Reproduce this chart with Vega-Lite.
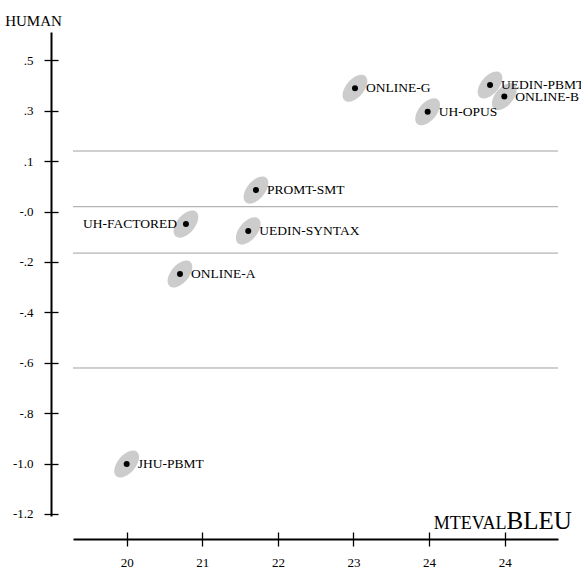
{
  "$schema": "https://vega.github.io/schema/vega-lite/v6.json",
  "width": 485,
  "height": 484,
  "autosize": {"type": "none"},
  "padding": {"left": 73, "top": 32, "right": 23, "bottom": 62},
  "background": "white",
  "config": {"view": {"stroke": null}, "font": "Liberation Serif"},
  "datasets": {
    "systems": [
      {"system": "ONLINE-G", "bleu": 23.02, "human": 0.389},
      {"system": "UEDIN-PBMT", "bleu": 24.806, "human": 0.402},
      {"system": "ONLINE-B", "bleu": 24.995, "human": 0.356},
      {"system": "UH-OPUS", "bleu": 23.981, "human": 0.296},
      {"system": "PROMT-SMT", "bleu": 21.71, "human": -0.015},
      {"system": "UH-FACTORED", "bleu": 20.784, "human": -0.15},
      {"system": "UEDIN-SYNTAX", "bleu": 21.608, "human": -0.177},
      {"system": "ONLINE-A", "bleu": 20.705, "human": -0.348},
      {"system": "JHU-PBMT", "bleu": 20.0, "human": -1.102}
    ],
    "boundaries": [
      {"human": 0.14},
      {"human": -0.081},
      {"human": -0.265},
      {"human": -0.721}
    ]
  },
  "resolve": {"axis": {"x": "independent", "y": "independent"}},
  "layer": [
    {
      "data": {"name": "boundaries"},
      "mark": {"type": "rule", "color": "#a0a0a0", "strokeWidth": 1},
      "encoding": {
        "y": {"field": "human", "type": "quantitative", "scale": {"domain": [-1.3083, 0.6123], "nice": false, "zero": false}, "axis": null}
      }
    },
    {
      "data": {"name": "systems"},
      "mark": {"type": "point", "shape": "M-1,0A1,0.5625,0,1,0,1,0A1,0.5625,0,1,0,-1,0Z", "angle": -50, "size": 1024, "filled": true, "color": "#cccccc", "opacity": 1, "strokeWidth": 0},
      "encoding": {
        "x": {
          "field": "bleu", "type": "quantitative",
          "scale": {"domain": [19.29, 25.705], "nice": false, "zero": false},
          "axis": {
            "orient": "bottom", "offset": 16, "grid": false, "domain": false,
            "values": [20, 21, 22, 23, 24, 25],
            "labelExpr": "datum.value == 25 ? '24' : format(datum.value, 'd')",
            "tickColor": "black", "tickWidth": 1.3, "tickSize": 14,
            "labelFont": "Liberation Serif", "labelFontSize": 13, "labelColor": "black", "labelPadding": 10,
            "title": "MTEVAL", "titleFont": "Liberation Serif", "titleFontSize": 18, "titleFontWeight": "normal", "titleColor": "black",
            "titleX": 433, "titleY": -4, "titleAlign": "right", "titleBaseline": "alphabetic", "titleAnchor": null
          }
        },
        "y": {
          "field": "human", "type": "quantitative",
          "scale": {"domain": [-1.3083, 0.6123], "nice": false, "zero": false},
          "axis": {
            "orient": "left", "offset": 15, "grid": false, "domain": false,
            "values": [0.5, 0.3, 0.1, -0.1, -0.3, -0.5, -0.7, -0.9, -1.1, -1.3],
            "labelExpr": "datum.value > 0 ? replace(format(datum.value, '.1f'), '0.', '.') : '-' + replace(format(abs(datum.value + 0.1), '.1f'), '0.', '.')",
            "tickColor": "black", "tickWidth": 1.3, "tickSize": 14,
            "labelFont": "Liberation Serif", "labelFontSize": 13, "labelColor": "black", "labelPadding": 11,
            "title": "HUMAN", "titleFont": "Liberation Serif", "titleFontSize": 15, "titleFontWeight": "normal", "titleColor": "black",
            "titleAngle": 0, "titleX": -25, "titleY": -7, "titleAlign": "center", "titleBaseline": "alphabetic", "titleAnchor": null
          }
        }
      }
    },
    {
      "data": {"name": "systems"},
      "mark": {"type": "point", "shape": "circle", "size": 36, "filled": true, "color": "black", "opacity": 1},
      "encoding": {
        "x": {
          "field": "bleu", "type": "quantitative",
          "scale": {"domain": [19.29, 25.705], "nice": false, "zero": false},
          "axis": {
            "orient": "bottom", "offset": 23, "grid": false,
            "labels": false, "ticks": false, "domain": true,
            "domainColor": "black", "domainWidth": 2,
            "title": "BLEU", "titleFont": "Liberation Serif", "titleFontSize": 25, "titleFontWeight": "normal", "titleColor": "black",
            "titleX": 433, "titleY": -11, "titleAlign": "left", "titleBaseline": "alphabetic", "titleAnchor": null
          }
        },
        "y": {
          "field": "human", "type": "quantitative",
          "scale": {"domain": [-1.3083, 0.6123], "nice": false, "zero": false},
          "axis": {
            "orient": "left", "offset": 22, "grid": false,
            "labels": false, "ticks": false, "domain": true,
            "domainColor": "black", "domainWidth": 2,
            "title": null
          }
        }
      }
    },
    {
      "data": {"name": "systems"},
      "transform": [{"filter": "datum.system !== 'UH-FACTORED'"}],
      "mark": {"type": "text", "align": "left", "baseline": "middle", "dx": 11, "fontSize": 13.5, "font": "Liberation Serif", "color": "black"},
      "encoding": {
        "x": {"field": "bleu", "type": "quantitative", "scale": {"domain": [19.29, 25.705], "nice": false, "zero": false}, "axis": null},
        "y": {"field": "human", "type": "quantitative", "scale": {"domain": [-1.3083, 0.6123], "nice": false, "zero": false}, "axis": null},
        "text": {"field": "system"}
      }
    },
    {
      "data": {"name": "systems"},
      "transform": [{"filter": "datum.system === 'UH-FACTORED'"}],
      "mark": {"type": "text", "align": "right", "baseline": "middle", "dx": -9, "fontSize": 13.5, "font": "Liberation Serif", "color": "black"},
      "encoding": {
        "x": {"field": "bleu", "type": "quantitative", "scale": {"domain": [19.29, 25.705], "nice": false, "zero": false}, "axis": null},
        "y": {"field": "human", "type": "quantitative", "scale": {"domain": [-1.3083, 0.6123], "nice": false, "zero": false}, "axis": null},
        "text": {"field": "system"}
      }
    }
  ]
}
